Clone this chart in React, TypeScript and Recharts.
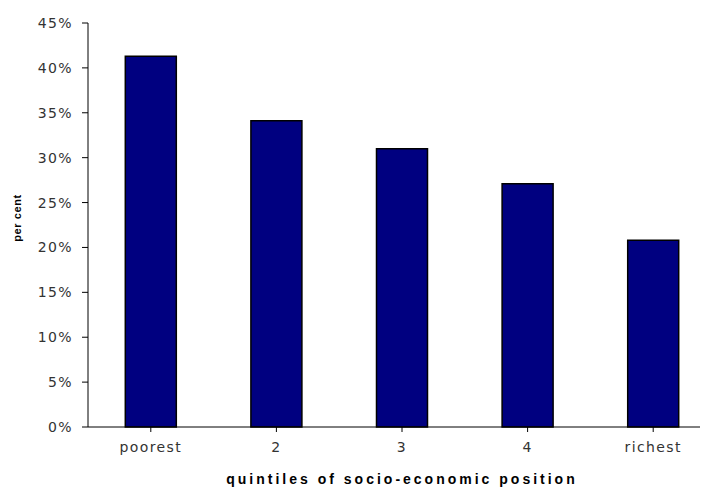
import React from 'react';
import { BarChart, Bar, XAxis, YAxis, Label } from 'recharts';

const quintiles = ['poorest', '2', '3', '4', 'richest'];
const perCent = [41.3, 34.1, 31.0, 27.1, 20.8];
const yTicks = [0, 5, 10, 15, 20, 25, 30, 35, 40, 45];

const data = quintiles.map((q, i) => ({ quintile: q, value: perCent[i] }));

const font = '"Liberation Sans", Arial, sans-serif';
const tickFont = '"DejaVu Sans", Verdana, sans-serif';

// rotated y title, nudged a little above the plot centre like the original
const YTitle = ({ viewBox }: any) => {
  const cx = 9;
  const cy = viewBox.y + viewBox.height / 2 - 7;
  return (
    <text
      x={cx}
      y={cy}
      transform={`rotate(-90, ${cx}, ${cy})`}
      textAnchor="middle"
      dominantBaseline="central"
      style={{ fontSize: 11, fontWeight: 'bold', letterSpacing: 0.6, fill: '#000', fontFamily: font }}
    >
      per cent
    </text>
  );
};

const App: React.FC = () => {
  return (
    <div style={{ width: 700, height: 480, overflow: 'hidden', fontFamily: font }}>
      <BarChart
        width={710}
        height={480}
        data={data}
        margin={{ top: 15, right: 2, bottom: 0, left: 0 }}
        barCategoryGap="29.7%"
      >
        <XAxis
          dataKey="quintile"
          stroke="#000"
          tickSize={5}
          tickMargin={10}
          height={61}
          tick={{ fontSize: 14, fill: '#333', fontFamily: tickFont, letterSpacing: 1.4 }}
          interval={0}
        >
          <Label
            value="quintiles of socio-economic position"
            position="insideBottom"
            offset={4}
            style={{ fontSize: 14, fontWeight: 'bold', letterSpacing: 3, fill: '#000', fontFamily: font }}
          />
        </XAxis>
        <YAxis
          domain={[0, 45]}
          ticks={yTicks}
          interval={0}
          width={80}
          stroke="#000"
          tickSize={6}
          tickMargin={9}
          tickFormatter={(v) => `${v}%`}
          tick={{ fontSize: 14, fill: '#333', fontFamily: tickFont, letterSpacing: 1.4 }}
        >
          <Label content={YTitle} />
        </YAxis>
        <Bar dataKey="value" fill="#000080" stroke="#000" strokeWidth={1.5} isAnimationActive={false} />
      </BarChart>
    </div>
  );
};

export default App;
